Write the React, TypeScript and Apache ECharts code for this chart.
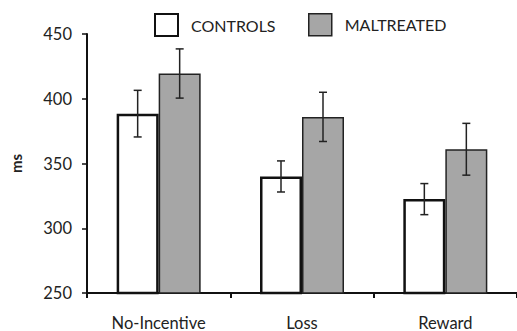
import React, { useEffect, useRef } from "react";
import * as echarts from "echarts";

const categories = ["No-Incentive", "Loss", "Reward"];
const controlsMean = [388.5, 340, 322.5];
const controlsErr = [18, 12, 12];
const maltreatedMean = [419.5, 386, 361];
const maltreatedErr = [19, 19, 20];
const yTicks = { min: 250, max: 450, interval: 50 };

const FONT = "Lato";
const BAR_W = 42;

function errorSeries(name: string, means: number[], errs: number[], offset: number) {
  return {
    type: "custom",
    name: name + "-err",
    z: 10,
    silent: true,
    data: means.map((m, i) => [i, m - errs[i], m + errs[i]]),
    encode: { x: 0, y: [1, 2] },
    renderItem: (params: any, api: any) => {
      const lo = api.coord([api.value(0), api.value(1)]);
      const hi = api.coord([api.value(0), api.value(2)]);
      const x = lo[0] + offset;
      const cap = 4;
      const style = { stroke: "#222", lineWidth: 1.5 };
      return {
        type: "group",
        children: [
          { type: "line", shape: { x1: x, y1: lo[1], x2: x, y2: hi[1] }, style },
          { type: "line", shape: { x1: x - cap, y1: lo[1], x2: x + cap, y2: lo[1] }, style },
          { type: "line", shape: { x1: x - cap, y1: hi[1], x2: x + cap, y2: hi[1] }, style },
        ],
      };
    },
  };
}

export default function App() {
  const ref = useRef<HTMLDivElement>(null);
  useEffect(() => {
    const chart = echarts.init(ref.current!, null, { renderer: "svg" });
    const legendText = { fontFamily: FONT, fontSize: 16, color: "#222", padding: [0, 0, 0, 8] };
    chart.setOption({
      animation: false,
      textStyle: { fontFamily: FONT },
      grid: { left: 85, right: -6, top: 34, bottom: 38 },
      legend: [
        {
          data: [{ name: "CONTROLS", itemStyle: { color: "#fff", borderColor: "#111", borderWidth: 2 } }],
          left: 154, top: 13, padding: 0, itemWidth: 23, itemHeight: 22, icon: "rect",
          textStyle: legendText, selectedMode: false,
        },
        {
          data: [{ name: "MALTREATED", itemStyle: { color: "#a6a6a6", borderColor: "#222", borderWidth: 1.5 } }],
          left: 308, top: 13, padding: 0, itemWidth: 23, itemHeight: 22, icon: "rect",
          textStyle: legendText, selectedMode: false,
        },
      ],
      xAxis: {
        type: "category",
        data: categories,
        axisLine: { lineStyle: { color: "#111", width: 2 } },
        axisTick: { show: true, length: 5, lineStyle: { color: "#111", width: 2 } },
        axisLabel: { fontFamily: FONT, fontSize: 16.5, color: "#222", margin: 21 },
      },
      yAxis: {
        type: "value",
        min: yTicks.min,
        max: yTicks.max,
        interval: yTicks.interval,
        name: "ms",
        nameLocation: "middle",
        nameRotate: 90,
        nameGap: 64,
        nameTextStyle: { fontFamily: FONT, fontSize: 15, fontWeight: "bold", color: "#222" },
        axisLine: { show: true, lineStyle: { color: "#111", width: 2 } },
        axisTick: { show: true, length: 5, lineStyle: { color: "#111", width: 1.5 } },
        splitLine: { show: false },
        axisLabel: { fontFamily: FONT, fontSize: 16.5, color: "#222", margin: 15 },
      },
      series: [
        {
          name: "CONTROLS",
          type: "bar",
          data: controlsMean,
          barWidth: BAR_W,
          barGap: "0%",
          itemStyle: { color: "#fff", borderColor: "#111", borderWidth: 2.5 },
        },
        {
          name: "MALTREATED",
          type: "bar",
          data: maltreatedMean,
          barWidth: BAR_W,
          barGap: "0%",
          itemStyle: { color: "#a6a6a6", borderColor: "#222", borderWidth: 1.5 },
        },
        errorSeries("CONTROLS", controlsMean, controlsErr, -BAR_W / 2),
        errorSeries("MALTREATED", maltreatedMean, maltreatedErr, BAR_W / 2),
      ],
    });
    return () => chart.dispose();
  }, []);
  return (
    <div
      ref={ref}
      style={{ position: "fixed", left: 0, top: 0, width: 517, height: 331, background: "#fff" }}
    />
  );
}
